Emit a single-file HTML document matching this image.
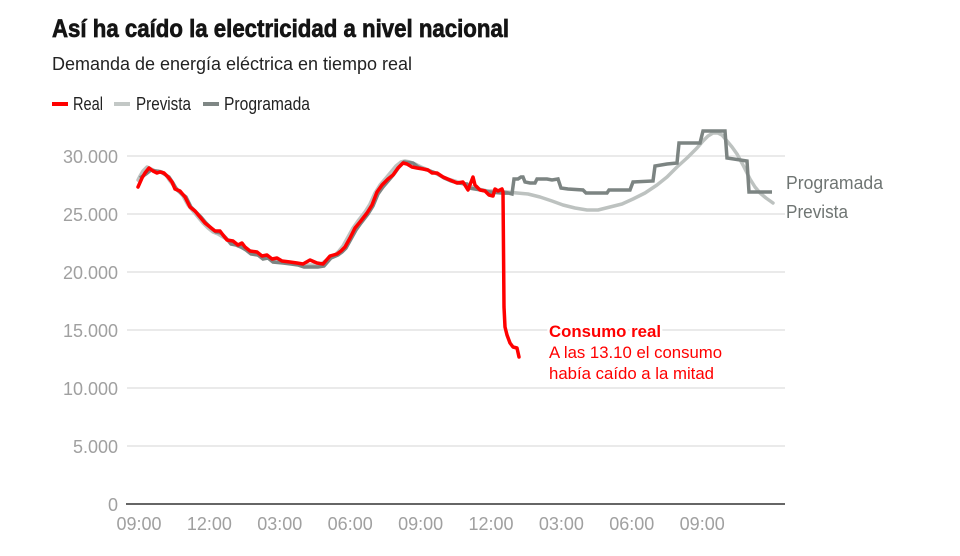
<!DOCTYPE html>
<html>
<head>
<meta charset="utf-8">
<style>
html,body{margin:0;padding:0;background:#fff;}
svg{display:block;}
text{font-family:"Liberation Sans",Arial,sans-serif;}
</style>
</head>
<body>
<svg width="960" height="556" viewBox="0 0 960 556" xmlns="http://www.w3.org/2000/svg">
  <rect width="960" height="556" fill="#fff"/>

  <!-- Title & subtitle -->
  <text x="52" y="37" font-size="25" font-weight="bold" fill="#141414" stroke="#141414" stroke-width="0.7" textLength="457" lengthAdjust="spacingAndGlyphs">Así ha caído la electricidad a nivel nacional</text>
  <text x="52" y="70" font-size="18" fill="#222" textLength="360" lengthAdjust="spacingAndGlyphs">Demanda de energía eléctrica en tiempo real</text>

  <!-- Legend -->
  <line x1="52" y1="104" x2="68" y2="104" stroke="#ff0000" stroke-width="4"/>
  <text x="73" y="110" font-size="18" fill="#222" textLength="30" lengthAdjust="spacingAndGlyphs">Real</text>
  <line x1="114" y1="104" x2="130" y2="104" stroke="#c3c8c6" stroke-width="4"/>
  <text x="136" y="110" font-size="18" fill="#222" textLength="55" lengthAdjust="spacingAndGlyphs">Prevista</text>
  <line x1="203" y1="104" x2="219" y2="104" stroke="#7f8785" stroke-width="4"/>
  <text x="224" y="110" font-size="18" fill="#222" textLength="86" lengthAdjust="spacingAndGlyphs">Programada</text>

  <!-- Gridlines -->
  <g stroke="#e4e4e4" stroke-width="1.5">
    <line x1="127" y1="156" x2="785" y2="156"/>
    <line x1="127" y1="214" x2="785" y2="214"/>
    <line x1="127" y1="272" x2="785" y2="272"/>
    <line x1="127" y1="330" x2="785" y2="330"/>
    <line x1="127" y1="388" x2="785" y2="388"/>
    <line x1="127" y1="446" x2="785" y2="446"/>
  </g>
  <line x1="126" y1="504" x2="785" y2="504" stroke="#333" stroke-width="1.5"/>

  <!-- Y labels -->
  <g font-size="18" fill="#a0a0a0" text-anchor="end">
    <text x="118" y="163">30.000</text>
    <text x="118" y="221">25.000</text>
    <text x="118" y="279">20.000</text>
    <text x="118" y="337">15.000</text>
    <text x="118" y="395">10.000</text>
    <text x="118" y="453">5.000</text>
    <text x="118" y="511">0</text>
  </g>

  <!-- X labels -->
  <g font-size="18" fill="#a0a0a0" text-anchor="middle">
    <text x="139" y="530">09:00</text>
    <text x="209.4" y="530">12:00</text>
    <text x="279.8" y="530">03:00</text>
    <text x="350.2" y="530">06:00</text>
    <text x="420.6" y="530">09:00</text>
    <text x="491" y="530">12:00</text>
    <text x="561.4" y="530">03:00</text>
    <text x="631.8" y="530">06:00</text>
    <text x="702.2" y="530">09:00</text>
  </g>

  <!-- Prevista (light gray) -->
  <g fill="none" stroke="#bdc2c0" stroke-width="3.5" stroke-linejoin="round" stroke-linecap="round">
    <path transform="translate(-2,0)" d="M140,180 L142,176 L145,171 L149,167 L153,169 L157,171 L160,171 L164,172 L168,175 L172,181 L176,186 L180,190 L185,196 L190,205 L195,211 L200,217 L205,223 L210,228 L215,232 L220,234 L225,237 L230,240 L235,243 L240,246 L245,248 L250,251 L257,254 L262,256 L267,257 L272,259 L277,260 L282,262 L290,263 L297,264 L303,265 L310,265 L317,265 L323,264 L330,259 L337,255 L341,251 L345,246 L350,237 L355,228 L360,221 L367,212 L372,204 L377,193 L382,185 L388,178 L393,172 L398,166 L403,162 L407,161 L412,162 L417,164 L423,167 L428,169 L432,171 L437,173 L443,176 L450,179 L457,181 L463,183 L468,185 L475,187 L480,189 L485,190 L489,191 L495,191 L502,191 L508,192"/>
    <path d="M506,192 L517,193 L528,194 L540,197 L552,201 L563,205 L575,208 L587,210 L598,210 L610,207 L622,204 L633,199 L645,193 L657,185 L667,177 L677,167 L687,158 L697,148 L703,141 L708,136 L713,133 L718,133 L722,135 L727,141 L732,147 L737,154 L743,165 L750,179 L755,187 L760,193 L766,198 L773,203"/>
  </g>

  <!-- Programada (dark gray) -->
  <g fill="none" stroke="#7c8482" stroke-width="3.5">
    <path transform="translate(1,2)" stroke-linejoin="miter"
      d="M139,176 L145,172 L150,168 L160,170 L168,175 L172,181 L176,188 L185,195 L190,205 L200,215 L205,221 L210,226 L215,230 L220,231 L225,236 L230,242 L235,243 L240,245 L245,248 L250,252 L257,253 L262,257 L267,256 L272,260 L282,261 L290,262 L297,263 L303,265 L317,265 L323,264 L330,256 L337,253 L341,250 L345,246 L350,237 L355,228 L360,221 L367,212 L372,204 L377,192 L382,185 L388,178 L393,172 L398,165 L403,160 L412,161 L417,165 L423,167 L432,170 L437,172 L443,176 L450,179 L457,181 L466,182 L468,186 L480,188 L489,190 L500,191 L507,191"/>
    <path stroke-linejoin="miter"
      d="M504,193 L508,193 L512,194 L514,179 L518,179 L521,177 L523,177 L525,182 L530,183 L535,183 L537,179 L547,179 L552,180 L558,179 L561,188 L568,189 L583,190 L586,193 L607,193 L609,190 L630,190 L633,182 L653,181 L655,166 L667,164 L677,163 L679,143 L700,143 L703,131 L725,131 L727,158 L747,161 L749,192 L772,192"/>
  </g>

  <!-- Real (red) -->
  <path fill="none" stroke="#ff0000" stroke-width="3.5" stroke-linejoin="round" stroke-linecap="round"
    d="M138,187 L142,178 L145,173 L149,168 L153,171 L157,173 L160,172 L164,173 L168,177 L172,182 L175,189 L180,191 L185,197 L190,207 L195,211 L200,217 L205,223 L210,227 L215,231 L220,231 L223,235 L227,240 L233,241 L238,245 L242,243 L245,247 L250,251 L257,252 L262,256 L267,255 L272,259 L277,258 L282,261 L290,262 L297,263 L303,264 L310,260 L317,263 L323,264 L330,256 L337,254 L341,251 L345,247 L350,238 L355,228 L360,222 L367,213 L372,205 L377,192 L382,185 L388,179 L393,175 L398,168 L403,163 L407,164 L412,167 L417,168 L423,169 L428,170 L432,173 L437,173 L443,177 L450,180 L457,183 L463,182 L468,190 L473,177 L475,185 L480,190 L485,191 L489,195 L493,196 L495,189 L498,191 L502,189 L503,192 L504,307 L505,327 L507,335 L510,343 L513,347 L517,348 L519,357"/>

  <!-- Right-side labels -->
  <text x="786" y="189" font-size="18" fill="#6f7573" textLength="97" lengthAdjust="spacingAndGlyphs">Programada</text>
  <text x="786" y="218" font-size="18" fill="#6f7573" textLength="62" lengthAdjust="spacingAndGlyphs">Prevista</text>

  <!-- Annotation -->
  <g fill="#ff0000">
    <text x="549" y="337" font-size="17" font-weight="bold" textLength="112" lengthAdjust="spacingAndGlyphs" stroke="#fff" stroke-width="5" paint-order="stroke" stroke-linejoin="round">Consumo real</text>
    <text x="549" y="358" font-size="17" textLength="173" lengthAdjust="spacingAndGlyphs">A las 13.10 el consumo</text>
    <text x="549" y="379" font-size="17" textLength="165" lengthAdjust="spacingAndGlyphs">había caído a la mitad</text>
  </g>
</svg>
</body>
</html>
